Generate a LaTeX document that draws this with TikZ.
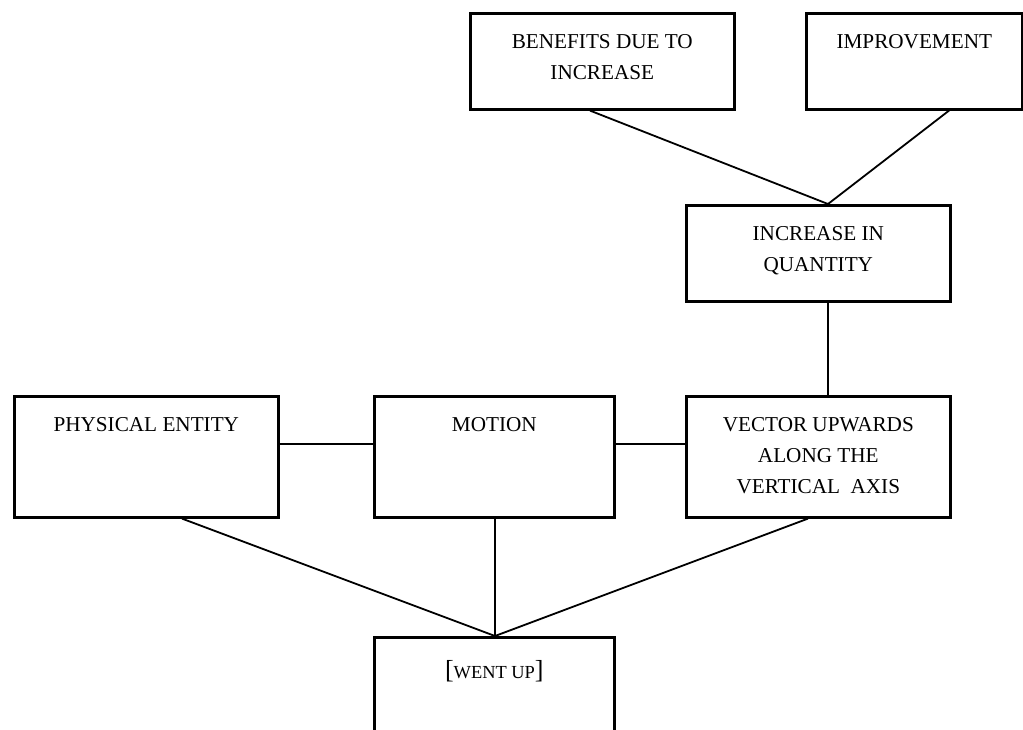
\documentclass[tikz,border=0pt]{standalone}
\usepackage{fontspec}
\setmainfont{Liberation Serif}
\usetikzlibrary{calc}
\newcommand{\rotulo}[4][6.6pt]{\parbox[t][#3][t]{#2}{\centering\vspace*{#1}\strut #4}}

\begin{document}
\begin{tikzpicture}[
  x=0.5pt,y=-0.5pt,
  caixa/.style={draw,line width=1.3pt,inner sep=0pt,anchor=north west,
                font=\fontsize{10.6}{15.5}\selectfont},
  ligacao/.style={line width=0.9pt}
]
  \clip (0,0) rectangle (1023,729);
  \node[caixa] (beneficios) at (469,12) {\rotulo{132pt}{48pt}{BENEFITS DUE TO\\INCREASE}};
  \node[caixa] (melhoria) at (805,12) {\rotulo{108pt}{48pt}{IMPROVEMENT}};
  \node[caixa] (aumento) at (685,204) {\rotulo{132pt}{48pt}{INCREASE IN\\QUANTITY}};
  \node[caixa] (entidade) at (13,395) {\rotulo{132pt}{60.5pt}{PHYSICAL ENTITY}};
  \node[caixa] (movimento) at (373,395) {\rotulo{120pt}{60.5pt}{MOTION}};
  \node[caixa] (vetor) at (685,395) {\rotulo{132pt}{60.5pt}{VECTOR UPWARDS\\ALONG THE\\VERTICAL\ \ AXIS}};
  \node[caixa] (subiu) at (373,636) {\rotulo[9.6pt]{120pt}{60pt}{{\fontsize{13}{15.5}\selectfont[}{\fontsize{9.2}{15.5}\selectfont WENT UP}{\fontsize{13}{15.5}\selectfont]}}};
  \draw[ligacao] ($(beneficios.south west)+(121,0)$) -- ($(aumento.north west)+(143,0)$);
  \draw[ligacao] ($(melhoria.south west)+(144,0)$) -- ($(aumento.north west)+(143,0)$);
  \draw[ligacao] ($(aumento.south west)+(143,0)$) -- ($(vetor.north west)+(143,0)$);
  \draw[ligacao] ($(entidade.north east)+(0,49)$) -- ($(movimento.north west)+(0,49)$);
  \draw[ligacao] ($(movimento.north east)+(0,49)$) -- ($(vetor.north west)+(0,49)$);
  \draw[ligacao] ($(entidade.south west)+(169,0)$) -- ($(subiu.north west)+(122,0)$);
  \draw[ligacao] ($(movimento.south west)+(122,0)$) -- ($(subiu.north west)+(122,0)$);
  \draw[ligacao] ($(vetor.south west)+(123,0)$) -- ($(subiu.north west)+(122,0)$);
\end{tikzpicture}
\end{document}
